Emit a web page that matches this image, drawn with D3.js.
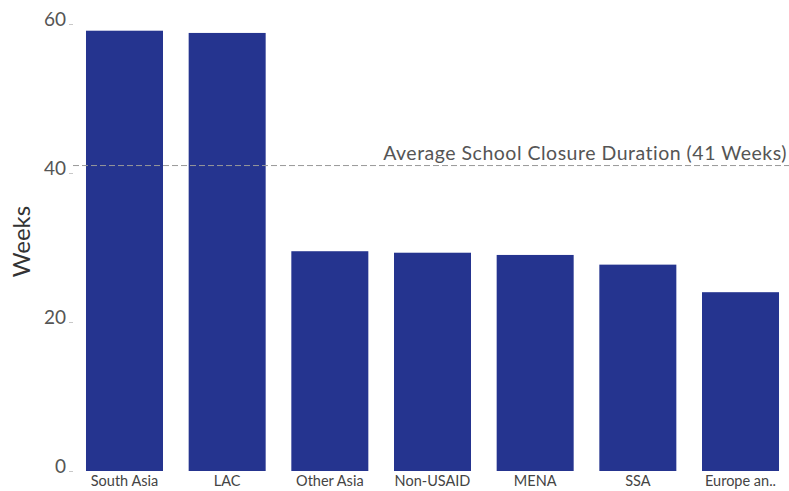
<!DOCTYPE html>
<html>
<head>
<meta charset="utf-8">
<script src="https://cdn.jsdelivr.net/npm/d3@7/dist/d3.min.js"></script>
<style>
  html, body { margin: 0; padding: 0; background: #fff; }
  svg { display: block; }
  text { font-family: Lato, "Open Sans", sans-serif; }
</style>
</head>
<body>
<svg id="chart" width="789" height="491"></svg>
<script>
// Average school closure duration (weeks) by region
const regions = ["South Asia", "LAC", "Other Asia", "Non-USAID", "MENA", "SSA", "Europe an.."];
const weeks = [59.1, 58.8, 29.5, 29.3, 29.0, 27.7, 24.0];
const averageWeeks = 41;
const yTicks = [0, 20, 40, 60];

const svg = d3.select("#chart");
const W = 789, H = 491;

const x = d3.scaleBand()
  .domain(regions)
  .range([74.7, 790.3])
  .paddingInner(0.25)
  .paddingOuter(0.11);

const y = d3.scaleLinear()
  .domain([0, 60])
  .range([471, 24]);

// bars
svg.append("g")
  .selectAll("rect")
  .data(regions)
  .join("rect")
  .attr("x", d => x(d))
  .attr("width", x.bandwidth())
  .attr("y", (d, i) => y(weeks[i]))
  .attr("height", (d, i) => y(0) - y(weeks[i]))
  .attr("fill", "#25348f");

// y axis
const yAxis = svg.append("g")
  .attr("transform", "translate(73,0)")
  .call(d3.axisLeft(y).tickValues(yTicks).tickSize(4).tickPadding(3));
yAxis.select(".domain").remove();
yAxis.selectAll(".tick line").attr("stroke", "#c8c8c8");
yAxis.selectAll(".tick text")
  .attr("fill", "#555")
  .style("font-size", "19px")
  .attr("dy", "0.1em");

// x axis labels
const xAxis = svg.append("g")
  .attr("transform", `translate(0,${y(0)})`)
  .call(d3.axisBottom(x).tickSize(0).tickPadding(5));
xAxis.select(".domain").remove();
xAxis.selectAll(".tick text")
  .attr("fill", "#444")
  .style("font-size", "14.5px");

// y axis title
svg.append("text")
  .attr("transform", `translate(30,${(y(40) + y(20)) / 2 - 6}) rotate(-90)`)
  .attr("text-anchor", "middle")
  .attr("fill", "#333")
  .style("font-size", "24px")
  .text("Weeks");

// average reference line
svg.append("line")
  .attr("x1", 73)
  .attr("x2", W)
  .attr("y1", y(averageWeeks))
  .attr("y2", y(averageWeeks))
  .attr("stroke", "#999")
  .attr("stroke-width", 1)
  .attr("stroke-dasharray", "6,3");

svg.append("text")
  .attr("x", 787)
  .attr("y", y(averageWeeks) - 6)
  .attr("text-anchor", "end")
  .attr("fill", "#555")
  .style("font-size", "19.5px")
  .style("letter-spacing", "0.5px")
  .text(`Average School Closure Duration (${averageWeeks} Weeks)`);
</script>
</body>
</html>
